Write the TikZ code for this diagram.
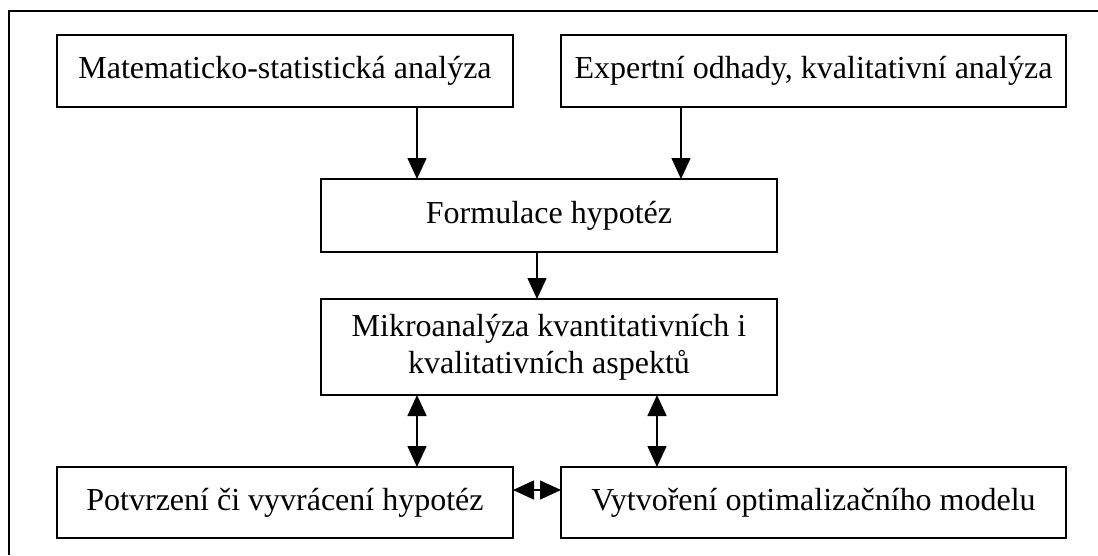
\documentclass[tikz,border=0pt]{standalone}
\usepackage{fontspec}
\setmainfont{Liberation Serif}
\usetikzlibrary{arrows.meta, positioning}
\tikzset{>={Triangle[length=21pt,width=19pt]}}
\tikzset{box/.style={draw, line width=1.5pt, inner sep=0pt, outer sep=0pt, minimum height=72pt, align=center, font=\fontsize{32}{37}\selectfont}}

\begin{document}
\begin{tikzpicture}[x=1pt, y=1pt, line width=1.5pt]
		\useasboundingbox (0,0) rectangle (1098,-555);
		\draw (9,-555) -- (9,-11) -- (1098,-11);
		\node[box, minimum width=456pt] (mat) at (285,-71) {Matematicko-statistická analýza};
		\node[box, minimum width=505pt] (exp) at (813.5,-71) {Expertní odhady, kvalitativní analýza};
		\node[box, minimum width=456pt, minimum height=73pt] (hyp) at (549,-215.5) {Formulace hypotéz};
		\node[box, minimum width=456pt, minimum height=96pt] (mikro) at (549,-347) {Mikroanalýza kvantitativních i\\kvalitativních aspektů};
		\node[box, minimum width=456pt, minimum height=71pt] (potv) at (285,-502.5) {Potvrzení či vyvrácení hypotéz};
		\node[box, minimum width=505pt, minimum height=71pt] (model) at (813.5,-502.5) {Vytvoření optimalizačního modelu};
		\draw [->]([xshift=132pt]mat.south)--([xshift=-132pt]hyp.north);
		\draw [->]([xshift=-132.5pt]exp.south)--([xshift=132pt]hyp.north);
		\draw [->]([xshift=-12pt]hyp.south)--([xshift=-12pt]mikro.north);
		\draw [<->]([xshift=-132pt]mikro.south)--([xshift=132pt]potv.north);
		\draw [<->]([xshift=108pt]mikro.south)--([xshift=-156.5pt]model.north);
		\draw [<->]([yshift=12.5pt]potv.east)--([yshift=12.5pt]model.west);
		\end{tikzpicture}
\end{document}
